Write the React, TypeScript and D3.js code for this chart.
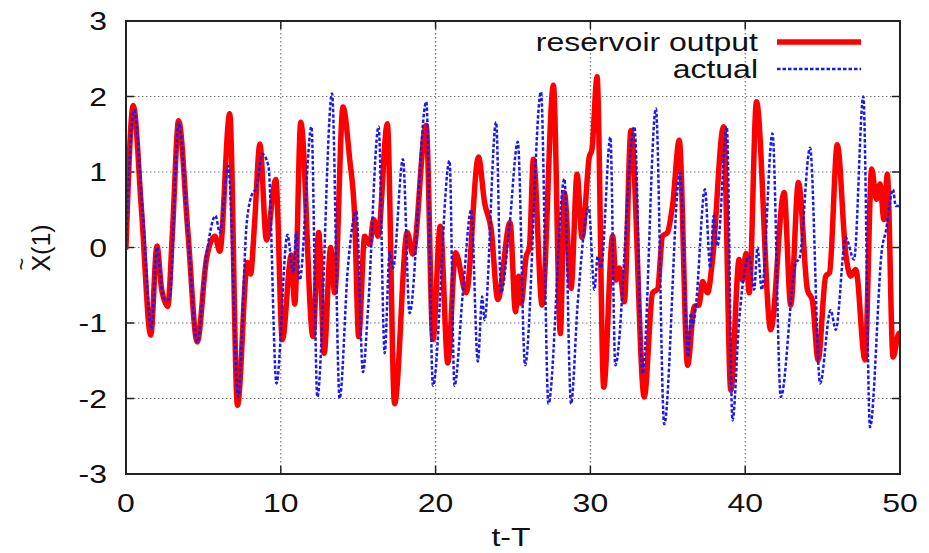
import React from "react";
import * as d3 from "d3";

const W = 929;
const H = 553;

const xTicks = [0, 10, 20, 30, 40, 50];
const yTicks = [-3, -2, -1, 0, 1, 2, 3];

const reservoirT = [0, 0.47, 1.0, 1.6, 2.0, 2.3, 2.7, 3.0, 3.4, 4.0, 4.6, 5.2, 5.74, 6.06, 6.7, 7.2, 7.85, 8.05, 8.3, 8.65, 9.07, 9.68, 10.1, 10.68, 10.9, 11.29, 12.08, 12.45, 12.8, 13.22, 13.48, 14.02, 14.45, 14.77, 15.03, 15.42, 15.74, 16.0, 16.28, 16.88, 17.35, 18.17, 18.53, 19.39, 19.83, 20.3, 20.79, 21.29, 21.98, 22.77, 23.16, 23.59, 24.02, 24.81, 25.16, 25.37, 25.52, 25.85, 26.06, 26.32, 26.88, 27.61, 28.06, 28.32, 28.75, 29.14, 29.46, 29.93, 30.1, 30.43, 30.86, 31.44, 31.65, 31.87, 32.19, 32.62, 33.48, 34.02, 34.34, 34.66, 34.98, 35.31, 35.74, 36.28, 36.71, 37.03, 37.24, 37.57, 37.89, 38.6, 39.07, 39.61, 39.82, 40.05, 40.26, 40.73, 41.65, 42.51, 42.94, 43.44, 44.02, 44.34, 44.71, 45.2, 45.45, 45.95, 46.49, 46.81, 47.14, 47.74, 48.17, 48.47, 48.71, 48.96, 49.18, 49.55, 49.93, 50];
const reservoirY = [0, 1.88, 0.5, -1.16, 0.02, -0.55, -0.78, 0.2, 1.68, 0.2, -1.25, -0.15, 0.15, -0.05, 1.77, -2.09, -0.2, -0.35, 0.3, 1.37, 0.1, 0.9, -1.22, -0.1, -0.75, 1.66, -1.18, 0.2, -1.4, 0.0, -0.6, 1.86, 1.17, 0.42, -1.18, 0.15, 0.04, 0.37, 0.15, 1.64, -2.07, 0.2, -0.09, 1.62, -1.22, 0.28, -1.53, -0.07, -0.6, 1.2, 0.6, 0.24, -0.69, 0.33, -0.85, -0.38, -0.74, -0.12, 0.0, 1.17, -0.76, 2.15, -1.14, 0.73, -0.54, 0.97, 0.13, 1.2, 1.3, 2.26, -1.85, 0.15, -0.43, -0.27, -0.72, 1.55, -1.98, -0.6, -0.55, 0.15, 0.2, 0.56, 1.42, -1.56, -0.78, -0.76, -0.45, -0.6, -0.16, 1.6, -1.89, -0.16, -0.43, -0.08, -0.6, 1.93, -1.09, 0.73, -0.76, 0.86, -0.56, -0.7, -1.49, -0.38, -0.33, 1.36, -0.07, -0.38, -0.29, -1.49, 1.04, 0.64, 0.84, 0.37, 0.97, -1.45, -1.14, -1.15];

const actualT = [0, 0.52, 1.1, 1.65, 2.0, 2.35, 2.5, 2.8, 3.4, 4.0, 4.6, 5.2, 5.78, 6.06, 6.6, 7.25, 7.8, 8.2, 8.4, 8.8, 9.2, 9.72, 10.43, 10.8, 11.0, 11.22, 11.98, 12.36, 13.31, 13.8, 14.34, 14.88, 15.31, 15.63, 16.32, 16.71, 17.03, 17.25, 17.89, 18.32, 19.4, 19.83, 20.9, 21.22, 21.76, 22.3, 22.73, 23.01, 23.16, 23.91, 24.23, 24.77, 25.31, 25.78, 26.81, 27.29, 28.32, 28.75, 29.18, 29.89, 30.26, 30.47, 30.69, 31.29, 31.61, 32.84, 33.37, 34.23, 34.77, 35.78, 36.32, 36.49, 36.6, 36.81, 37.4, 37.74, 37.96, 38.21, 38.81, 39.18, 39.61, 40.26, 40.58, 40.79, 41.07, 41.76, 42.3, 43.27, 43.5, 44.19, 44.84, 45.52, 45.85, 46.49, 47.03, 47.63, 48.06, 48.86, 49.07, 49.55, 49.72, 50];
const actualY = [0, 1.82, 0.4, -1.08, 0.0, -0.6, -0.69, -0.69, 1.65, 0.2, -1.25, -0.1, 0.42, 0.2, 1.08, -1.98, 0.33, 0.73, 0.77, 1.24, 1.08, -1.8, 0.17, -0.34, 0.2, -0.43, 1.6, -1.98, 2.04, -2.0, -0.25, 0.48, -1.65, -0.83, 1.6, -1.4, -0.07, -0.27, 1.17, -0.87, 1.93, -1.83, 1.15, -1.83, -0.6, 0.5, -1.51, -0.65, -0.96, 1.66, -0.6, 0.28, 1.4, -1.56, 2.06, -2.07, 0.91, -2.07, -0.74, 0.53, -0.56, -0.12, -0.27, 1.46, -1.56, 1.6, -1.67, 1.84, -2.34, 0.99, -1.45, -0.87, -1.05, -0.78, 0.77, -0.27, 0.42, 0.02, 1.6, -2.29, -0.96, -0.12, -0.56, 0.0, -0.56, 1.51, -1.98, -0.2, -0.15, 1.32, -1.8, -0.83, -1.09, 0.13, -0.16, 2.0, -2.38, 0.02, 0.2, 0.77, 0.55, 0.55];

const legendLabels = ["reservoir output", "actual"];

const left = 126;
const right = 900;
const top = 21;
const bottom = 474;

const FONT = "'Liberation Sans', Arial, sans-serif";
const SX = 1.28;

export default function App() {
  const x = d3.scaleLinear().domain([0, 50]).range([left, right]);
  const y = d3.scaleLinear().domain([-3, 3]).range([bottom, top]);

  const line = d3
    .line<[number, number]>()
    .x((d) => x(d[0]))
    .y((d) => y(d[1]))
    .curve(d3.curveMonotoneX);

  const redData: [number, number][] = reservoirT.map((t, i) => [t, reservoirY[i]]);
  const blueData: [number, number][] = actualT.map((t, i) => [t, actualY[i]]);

  const txt = (
    key: string,
    tx: number,
    ty: number,
    s: string,
    anchor: "start" | "middle" | "end"
  ) => (
    <text
      key={key}
      transform={`translate(${tx},${ty}) scale(${SX},1)`}
      textAnchor={anchor}
      fontFamily={FONT}
      fontSize={25}
      fill="#111"
    >
      {s}
    </text>
  );

  return (
    <svg
      width={W}
      height={H}
      style={{ position: "absolute", left: 0, top: 0, background: "#fff" }}
    >
      <defs>
        <clipPath id="plotclip">
          <rect x={left} y={top} width={right - left} height={bottom - top} />
        </clipPath>
      </defs>
      <rect x={0} y={0} width={W} height={H} fill="#fff" />
      {/* grid */}
      {xTicks
        .filter((t) => t > 0 && t < 50)
        .map((t) => (
          <line
            key={"gx" + t}
            x1={x(t)}
            x2={x(t)}
            y1={top}
            y2={bottom}
            stroke="#777"
            strokeWidth={1.2}
            strokeDasharray="1.5,2.5"
          />
        ))}
      {yTicks
        .filter((t) => t > -3 && t < 3)
        .map((t) => (
          <line
            key={"gy" + t}
            x1={left}
            x2={right}
            y1={y(t)}
            y2={y(t)}
            stroke="#777"
            strokeWidth={1.2}
            strokeDasharray="1.5,2.5"
          />
        ))}
      {/* ticks */}
      {xTicks.map((t) => (
        <g key={"tx" + t}>
          <line x1={x(t)} x2={x(t)} y1={bottom} y2={bottom - 8} stroke="#222" strokeWidth={1.5} />
          <line x1={x(t)} x2={x(t)} y1={top} y2={top + 8} stroke="#222" strokeWidth={1.5} />
        </g>
      ))}
      {yTicks.map((t) => (
        <g key={"ty" + t}>
          <line x1={left} x2={left + 8} y1={y(t)} y2={y(t)} stroke="#222" strokeWidth={1.5} />
          <line x1={right} x2={right - 8} y1={y(t)} y2={y(t)} stroke="#222" strokeWidth={1.5} />
        </g>
      ))}
      {/* series */}
      <g clipPath="url(#plotclip)">
        <path d={line(redData) || ""} fill="none" stroke="#ff0000" strokeWidth={5.5} strokeLinejoin="round" strokeLinecap="round" />
        <path d={line(blueData) || ""} fill="none" stroke="#1a1aee" strokeWidth={2.5} strokeDasharray="3.5,2" />
      </g>
      {/* border */}
      <rect x={left} y={top} width={right - left} height={bottom - top} fill="none" stroke="#222" strokeWidth={2} />
      {/* tick labels */}
      {yTicks.map((t) => txt("yl" + t, 107, y(t) + 9, String(t), "end"))}
      {xTicks.map((t) => txt("xl" + t, x(t), 512, String(t), "middle"))}
      {/* axis labels */}
      {txt("xlab", 511, 546, "t-T", "middle")}
      <g transform="translate(50,248) rotate(-90)">
        <text x={0} y={0} textAnchor="middle" fontFamily={FONT} fontSize={25} fill="#111">
          X(1)
        </text>
        <text x={-16} y={-21} textAnchor="middle" fontFamily={FONT} fontSize={22} fill="#111">
          ~
        </text>
      </g>
      {/* legend */}
      {txt("lg0", 758, 51, legendLabels[0], "end")}
      {txt("lg1", 758, 78, legendLabels[1], "end")}
      <line x1={777} x2={861} y1={42} y2={42} stroke="#ff0000" strokeWidth={5.5} />
      <line x1={777} x2={861} y1={69} y2={69} stroke="#1a1aee" strokeWidth={2.5} strokeDasharray="3.5,2" />
    </svg>
  );
}
